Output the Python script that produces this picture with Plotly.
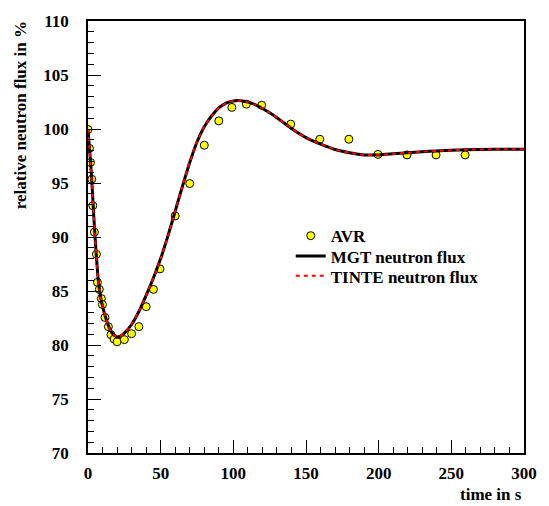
import plotly.graph_objects as go

# AVR measured data
avr_t = [0, 1, 1.7, 2.6, 3.3, 4.4, 5.8, 6.5, 7.8, 9.2, 9.9, 11.7, 14, 15.8, 18, 20,
         25, 30, 35, 40, 45, 49.5, 60, 70, 80, 90, 99, 109, 119.5, 139.5, 159.5,
         179.5, 199.5, 219.5, 239.5, 259.5]
avr_v = [99.95, 98.2, 96.9, 95.35, 92.9, 90.45, 88.4, 85.8, 85.15, 84.3, 83.75, 82.55,
         81.7, 80.95, 80.55, 80.3, 80.5, 81.05, 81.7, 83.55, 85.15, 87.05, 91.95, 94.95,
         98.5, 100.75, 102.0, 102.3, 102.2, 100.45, 99.05, 99.05, 97.65, 97.6, 97.6, 97.6]

# Simulated neutron flux (MGT and TINTE overlap)
sim_t = [0, 1, 2, 3, 4, 5, 6, 7, 8, 9, 10, 12, 14, 16, 18, 20, 22, 25, 30, 35, 40, 45,
         50, 55, 60, 65, 70, 75, 80, 85, 90, 95, 100, 105, 110, 115, 120, 125, 130, 135,
         140, 145, 150, 160, 170, 180, 190, 200, 210, 220, 230, 240, 250, 260, 280, 300]
mgt_v = [100.0, 98.2, 96.5, 94.3, 91.9, 89.7, 87.8, 86.1, 85.0, 84.2, 83.6, 82.6, 81.8,
         81.2, 80.9, 80.75, 80.8, 81.1, 81.9, 83.1, 84.6, 86.2, 88.0, 90.1, 92.4, 94.7,
         96.9, 98.8, 100.2, 101.2, 101.95, 102.4, 102.6, 102.62, 102.5, 102.25, 101.9,
         101.5, 101.05, 100.55, 100.05, 99.6, 99.2, 98.6, 98.1, 97.8, 97.6, 97.6, 97.7,
         97.8, 97.9, 97.97, 98.03, 98.08, 98.12, 98.12]
tinte_v = list(mgt_v)

x_ticks = [0, 50, 100, 150, 200, 250, 300]
y_ticks = [70, 75, 80, 85, 90, 95, 100, 105, 110]

FONT = "Liberation Serif"

fig = go.Figure()
fig.add_trace(go.Scatter(
    x=avr_t, y=avr_v, mode="markers", name="AVR", legend="legend",
    marker=dict(color="#FFFF00", size=8, line=dict(color="black", width=1)),
))
fig.add_trace(go.Scatter(
    x=sim_t, y=mgt_v, mode="lines", name="MGT neutron flux", legend="legend2",
    line=dict(color="black", width=3, shape="spline", smoothing=0.6),
))
fig.add_trace(go.Scatter(
    x=sim_t, y=tinte_v, mode="lines", name="TINTE neutron flux", legend="legend3",
    line=dict(color="red", width=2, dash="4px,4px", shape="spline", smoothing=0.6),
))

axis_common = dict(
    showline=True, linecolor="black", linewidth=1.5, mirror=True,
    ticks="inside", ticklen=13, tickwidth=1, tickcolor="black",
    showgrid=False, zeroline=False,
    tickfont=dict(family=FONT, size=17, color="black", weight=700),
)

leg_common = dict(xanchor="left", yanchor="middle", bgcolor="rgba(0,0,0,0)",
                  itemwidth=30,
                  font=dict(family=FONT, size=17, color="black", weight=700))

fig.update_layout(
    width=549, height=506,
    margin=dict(l=88, r=21, t=14, b=53),
    paper_bgcolor="white", plot_bgcolor="white",
    xaxis=dict(range=[0, 300], tickvals=x_ticks,
               ticktext=[str(v) for v in x_ticks],
               minor=dict(ticks="inside", ticklen=6, dtick=10, tickcolor="black"),
               ticklabelstandoff=4, **axis_common),
    yaxis=dict(range=[70, 110], tickvals=y_ticks,
               ticktext=[str(v) for v in y_ticks],
               minor=dict(ticks="inside", ticklen=6, dtick=1, tickcolor="black"),
               ticklabelstandoff=14, **axis_common),
    showlegend=True,
    legend=dict(x=0.465, y=0.502, **leg_common),
    legend2=dict(x=0.465, y=0.455, **leg_common),
    legend3=dict(x=0.465, y=0.409, **leg_common),
    annotations=[
        dict(text="relative neutron flux in %", xref="paper", yref="paper",
             x=-0.155, y=1.005, xanchor="center", yanchor="top", textangle=-90,
             showarrow=False,
             font=dict(family=FONT, size=17, color="black", weight=700)),
        dict(text="time in s", xref="paper", yref="paper",
             x=1.0, y=-0.07, xanchor="right", yanchor="top",
             showarrow=False,
             font=dict(family=FONT, size=17, color="black", weight=700)),
    ],
)

fig.write_html("out.html")
